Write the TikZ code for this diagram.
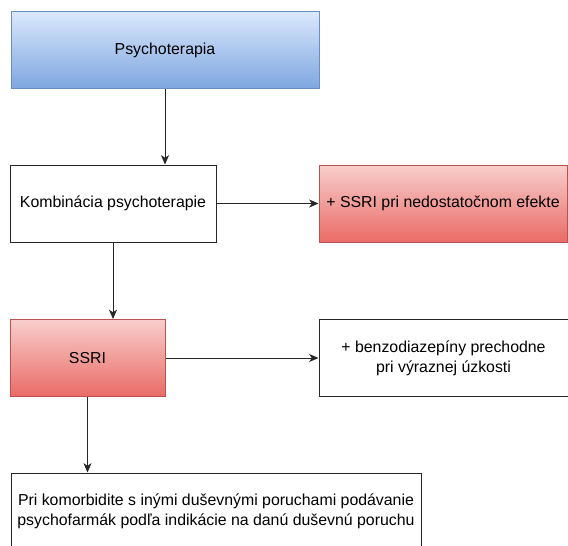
\documentclass[tikz,border=0pt]{standalone}
\usepackage{fontspec}
\setmainfont{Liberation Sans}
\usetikzlibrary{positioning,arrows.meta}
\definecolor{PaleBlue}{RGB}{218,232,252}
\definecolor{DeepBlue}{RGB}{126,166,224}
\definecolor{BlueLine}{RGB}{108,142,191}
\definecolor{PaleRed}{RGB}{248,206,204}
\definecolor{DeepRed}{RGB}{234,107,102}
\definecolor{RedLine}{RGB}{184,84,80}
\tikzset{
  flow/.style={-{Stealth[length=7pt,width=6pt,inset=2pt]},line width=0.75pt,draw=black!85},
  box/.style={draw=black!85,line width=0.75pt,fill=white,inner sep=0pt,
    minimum height=57.75pt,align=center,font=\fontsize{11.9}{14.8}\selectfont},
  bluebox/.style={box,draw=BlueLine,top color=PaleBlue,bottom color=DeepBlue},
  redbox/.style={box,draw=RedLine,top color=PaleRed,bottom color=DeepRed}
}

\begin{document}
\begin{tikzpicture}[x=0.75pt,y=-0.75pt]
  \useasboundingbox (0,0) rectangle (568,546);
  \node[bluebox,minimum width=231pt] (psych) at (165,50) {Psychoterapia};
  \node[box,minimum width=154.5pt] (komb) at (113,203.5) {Kombinácia psychoterapie};
  \node[redbox,right=76.5pt of komb,minimum width=186pt] (ssriplus) {+ SSRI pri nedostatočnom efekte};
  \node[redbox,minimum width=116.25pt] (ssri) at (87.5,358) {SSRI};
  \node[box,right=114.75pt of ssri,minimum width=186.75pt] (benzo) {
    + benzodiazepíny prechodne\\
    pri výraznej úzkosti
  };
  \node[box,minimum width=307.5pt] (komorb) at (216,511.5) {
    Pri komorbidite s inými duševnými poruchami podávanie\\
    psychofarmák podľa indikácie na danú duševnú poruchu
  };
  \draw[flow] (psych.south) -- (psych.south |- komb.north);
  \draw[flow] (komb) -- (ssriplus);
  \draw[flow] (komb.south) -- (komb.south |- ssri.north);
  \draw[flow] (ssri) -- (benzo);
  \draw[flow] (ssri.south) -- (ssri.south |- komorb.north);
\end{tikzpicture}
\end{document}
